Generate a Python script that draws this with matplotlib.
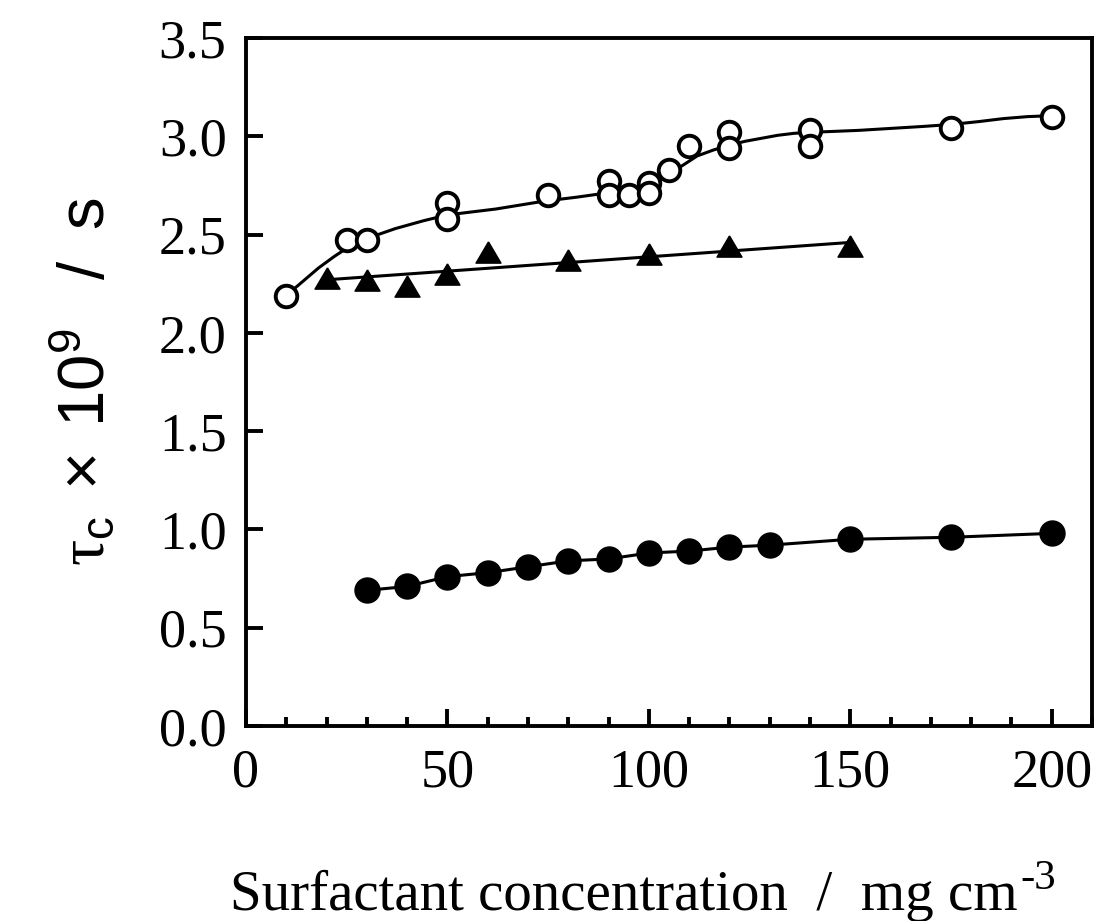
"""Rotational correlation time vs surfactant concentration."""

import matplotlib

matplotlib.use("Agg")
import matplotlib.pyplot as plt
from matplotlib.ticker import MultipleLocator

plt.rcParams["font.family"] = "Liberation Serif"
plt.rcParams["mathtext.fontset"] = "custom"
plt.rcParams["mathtext.rm"] = "Liberation Serif"
plt.rcParams["mathtext.sf"] = "Liberation Sans"
plt.rcParams["mathtext.it"] = "Liberation Serif:italic"

# open circles (two runs overlap at several concentrations)
open_x = [10, 25, 30, 50, 50, 75, 90, 90, 95, 100, 100, 105, 110, 120, 120, 140, 140, 175, 200]
open_y = [2.19, 2.47, 2.47, 2.66, 2.58, 2.70, 2.77, 2.70, 2.70, 2.76, 2.71, 2.83, 2.95,
          3.02, 2.94, 3.03, 2.95, 3.04, 3.10]
# hand-drawn guide curve through the open circles
open_curve_x = [10, 14, 18, 22, 25, 30, 37, 44, 50, 62, 74, 82, 89, 95, 100, 103, 106, 109,
                112, 116, 120, 124, 128, 132, 136, 140, 146, 152, 160, 168, 175, 182, 188,
                194, 200]
open_curve_y = [2.19, 2.26, 2.33, 2.39, 2.43, 2.48, 2.53, 2.57, 2.60, 2.63, 2.67, 2.69, 2.71,
                2.73, 2.75, 2.78, 2.82, 2.86, 2.90, 2.93, 2.955, 2.975, 2.99, 3.005, 3.015,
                3.02, 3.025, 3.03, 3.04, 3.05, 3.06, 3.075, 3.09, 3.10, 3.105]

tri_x = [20, 30, 40, 50, 60, 80, 100, 120, 150]
tri_y = [2.28, 2.27, 2.24, 2.30, 2.41, 2.37, 2.40, 2.44, 2.44]
tri_fit_x = [20, 150]
tri_fit_y = [2.27, 2.46]

fill_x = [30, 40, 50, 60, 70, 80, 90, 100, 110, 120, 130, 150, 175, 200]
fill_y = [0.69, 0.71, 0.76, 0.78, 0.81, 0.84, 0.85, 0.88, 0.89, 0.91, 0.92, 0.95, 0.96, 0.98]

fig = plt.figure(figsize=(10.98, 9.21), dpi=100)
ax = fig.add_axes([246 / 1098, 195 / 921, 846 / 1098, 688 / 921])

ax.plot(open_curve_x, open_curve_y, color="black", lw=2.2, zorder=2)
ax.plot(open_x, open_y, ls="none", marker="o", ms=15.5, mfc="white", mec="black", mew=2.8, zorder=3)

ax.plot(tri_fit_x, tri_fit_y, color="black", lw=2.2, zorder=2)
tri_marker = [(0, 0.85), (-1, -0.85), (1, -0.85), (0, 0.85)]
ax.plot(tri_x, tri_y, ls="none", marker=tri_marker, ms=18, color="black", zorder=3)

ax.plot(fill_x, fill_y, color="black", lw=2.2, marker="o", ms=18, zorder=3)

ax.set_xlim(0, 210)
ax.set_ylim(0, 3.5)
ax.xaxis.set_minor_locator(MultipleLocator(10))
ax.set_xticks([0, 50, 100, 150, 200])
ax.set_xticklabels(["0", "50", "100", "150", "200"])
ax.set_yticks([0, 0.5, 1.0, 1.5, 2.0, 2.5, 3.0, 3.5])
ax.set_yticklabels(["0.0", "0.5", "1.0", "1.5", "2.0", "2.5", "3.0", "3.5"])

for s in ax.spines.values():
    s.set_linewidth(2.8)
ax.tick_params(which="both", direction="in", top=False, right=False, labelsize=39, width=2.8)
ax.tick_params(axis="x", which="major", length=12, pad=16)
ax.tick_params(axis="x", which="minor", length=6.5)
ax.tick_params(axis="y", which="major", length=12, pad=14)

xlab = fig.text(230 / 1098, 11 / 921, "Surfactant concentration  /  mg cm", ha="left",
                va="baseline", fontsize=41)
ax.annotate("-3", xy=(1, 1), xycoords=xlab, xytext=(2, -14), textcoords="offset points",
            ha="left", va="baseline", fontsize=31)
fig.text(0.077, (195 + 344) / 921,
         r"$\mathrm{\tau}_{\mathsf{c}}\mathsf{\ \times\ 10^{9}\ \ \ /\ \ s}$",
         rotation=90, ha="center", va="center", fontsize=47)

fig.savefig("out.png", dpi=100)
